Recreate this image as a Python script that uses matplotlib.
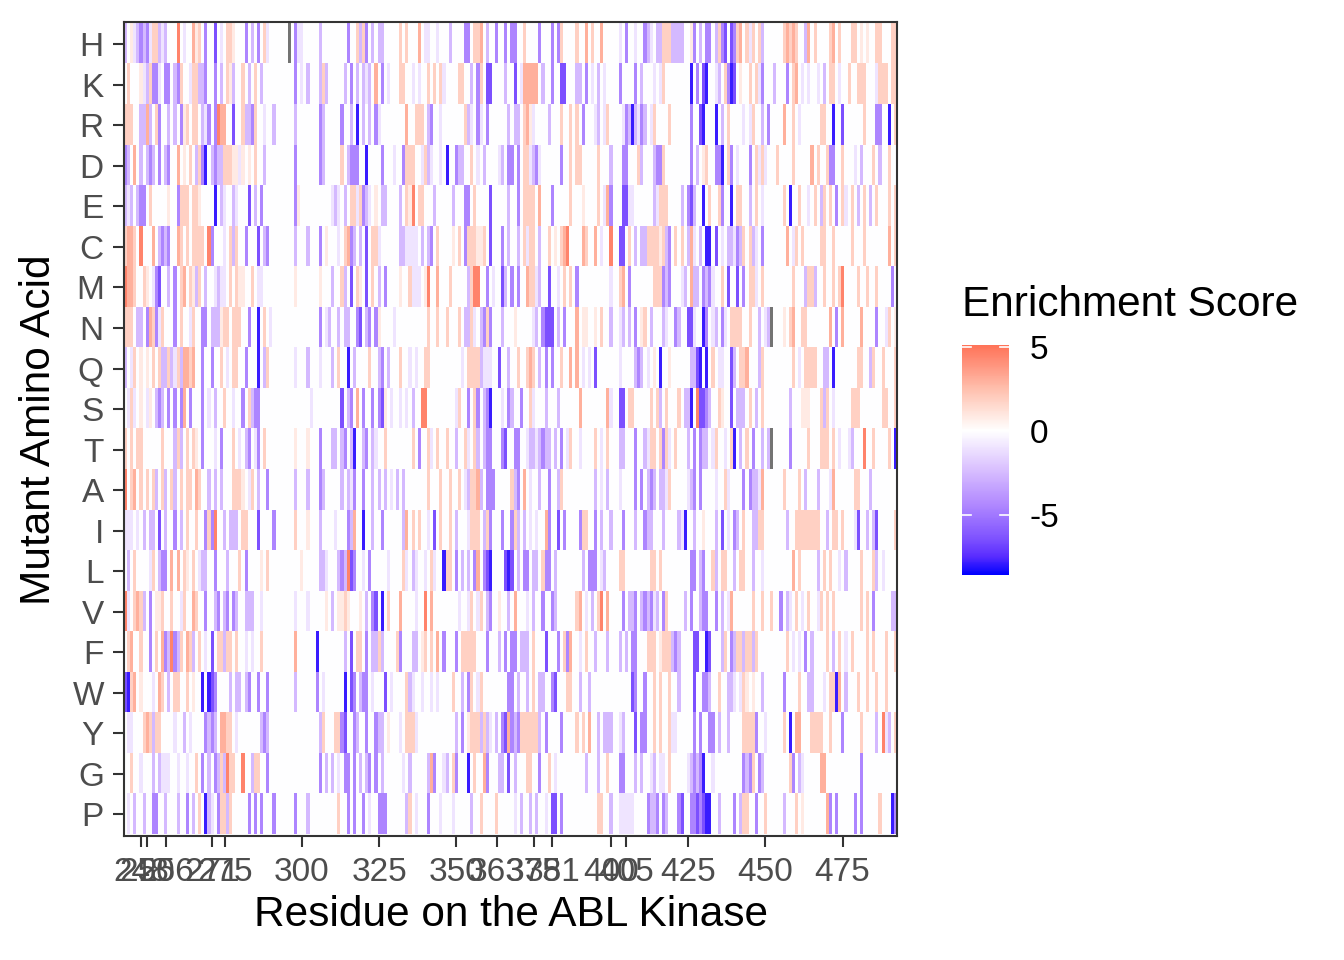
import numpy as np
import matplotlib
matplotlib.use("Agg")
import matplotlib.pyplot as plt
from matplotlib.colors import LinearSegmentedColormap, Normalize

plt.rcParams['font.family'] = ['Liberation Sans', 'DejaVu Sans']

# residues 243..492 on the x axis, one tile each
residues = np.arange(243, 493)
amino_acids = ["H", "K", "R", "D", "E", "C", "M", "N", "Q", "S",
               "T", "A", "I", "L", "V", "F", "W", "Y", "G", "P"]
tick_breaks = [248, 250, 256, 271, 275, 300, 325, 350, 363, 375, 381,
               400, 405, 425, 450, 475]

# enrichment score per tile, read off the tile colour
# "." ~0, "-" -1, "l" -2.5, "m" -4.5, "d" -6.5, "B" -7.9,
# "+" 0.8, "p" 1.8, "o" 3, "O" 4.5, "x" missing (grey)
level_scores = {".": 0.0, "-": -1.0, "l": -2.5, "m": -4.5, "d": -6.5, "B": -7.9,
                "+": 0.8, "p": 1.8, "o": 3.0, "O": 4.5, "x": np.nan}

# each row: residues 243-324, 325-409, 410-492 (groups of ten tiles)
segment_sizes = [82, 85, 83]

row_H = ("l.+-lmlm-p pl-l...O.- ..o+p.m..d .-.pp+...m .l.m.p-... ...x.m--.. ...l...... ..m..plpm.l.",
         "ll.....p.p ...o.--..- ...l....mm .ppo.l..m. .m.mm..p.. ..m...m.mp ....p..o.p ..o.....-. m..-.",
         ".ml-.llppp llll..+m.l .mm.lpmd.d mpo.p-p.pl ......popo p..lo.p... .po.p...pp .+.+..pp.. .pp")
row_K = (".p...+-lpm m-.mm.lmp. .-ppllm..m .l.p+l..p. l.p.l..... .....m.-.l ...lpl.... .l.m.l.l-l .o",
         ".m.-...pp. .-.-..p.p. p-....pp.. l.mp.dd... .l..d.-ooo oo.l..m..d d...ll.m.- .l.-....m. ...m.",
         "l...-.-p.. ......B.m. dB..-l.pmB d.+..p.p-m ...l...m.p o.-.-..-.l .pp.-..p.. ppp...-ppp .pp")
row_R = ("ppp..llol. pm..l.l.m+ p.pp.l-m.m Ooo..d..pl lmp..-..l. .....l.... ...ml..... m..l.B.l.l .m",
         "-........o ..ppp.lm.. -.......pl -.m-.m.... ..l.ll.po+ -....l...p ..p.p.m... -l.-p....- mlBl-",
         "ml.-p....p ......m..d B...B.l.p. ...-.-p..l .m....o..p .-......pp ..B..d.... ..p...mm.. B.p")
row_D = ("ml.o.l.lml .m.lm..o.+ .p.lpmB.lm llppp++-+. +.p..l.... .....m.... ...ml..... p.lmmm..B. ..",
         ".m...-..mp pp..-pl-.. -.B..mll.. p.-.l....- l.mm.m.pp- lm-......m ..p.pp.... .p...l...m m...p",
         "l...lmmp.. ......m.l. +p..mmB.pm .-...m.p-p -...p....p .....o.p.. pmm..p...- .l...p.l.. p..")
row_E = ("l-l.lmm.p. ....+..mpp p.pp+....B .l-..l-... d.l.m..... .....m+... .......-l- .l.pp-pml- .+",
         ".ll....l.p +O.pp...l. ....l...mm .p....d... ..l..m.ppp p.o...m... ..p...+... .p.-om...d d--..",
         "....l-ppp. ...l.mdl.. B.p..pm..B .pp..l.p.- ......p.B. .p..-.p.lp .p.m.p-.p. l.p.l.p... p.p")
row_C = ("poop.O...o .lmlm..op. p.pppp.Om. ..-.plp..m ...d.lm... .....l...l ...m.+...- .poml.l.d. pp",
         "-......ll- ---.l.lm.p ....+.p.mp pp++p.d... m.l..l.p-p p.l..p.+.p oO....op.. o.-..O..dd .p.l.",
         "llpppp+plm .p.p.lo-.l .BB.d.-.ll -mlp.pl-.m .......o.- p.p.....pp ..p.....p. ..p....... o.p")
row_M = ("Ooop..p+.- md..l.m.po .p+lp.l..- l--.p.p++. .p.--..... .....+.... ...+...l.. pl.d.p+.d. p.",
         "l.m....+.. p---.+O..o ...p.....l pOO..m.-.. dl.m.m..op p-l..d..-. p.p.m..... .....-..po .m...",
         "....pppmlm ...-l.oll. mlm-..p.d. .d.m.pp-.p .........p ...lppl..p ..p.pO.... p..p..p... .m.")
row_N = ("ppp.ll.mop m-p...m.p. .-p..mm.ll l+pp.ppp.. m..B.p.-.. .......... ...m.-l..l .ll..md.lm .m",
         "+....-.... ......p..p ..p...p.ll p-.lmpm... l...+..... -l.mddd.l. m...o.++.. +.p..l..-l .l.m.",
         "+p.l...l-. .ml..dd-.. Bm.-l.m-.p ppp..p..l. -lx...+.po ..pp...... .o.m.o.... .o....m..- p.+")
row_Q = ("l.-p.+.+.p .pllpl-plo opo..m..m. .p.-.pp..m ...B.lp... .....-...l ...-...l.p ..B.l....p ..",
         "lm.l...p.. -.-..pp... .......-.p pppl---..d ..l..p..po p.l.m.m..p ..o.o.-.-. d.......-. ...lm",
         "l.-.+.B..+ ......lldB .B.p.--..d l.ppo...lp .........p .-.pppp..l l.B....... pp..lp..p. ..p")
row_S = (".-p-.+.-+. lml.m.m.mo .m...m.-.l ..p..-..m. plmm...... .......... -......... d.lm.o.m.. m.",
         "md+.-..-.- .l..OO.... .....-p..m .pm.lmB... -.ml..m..p -...l...l. .....o.... ....o-..dd .pp..",
         "...p.pl.p. ..p.llB.Od dml..p+..d .lll.p.l.p ........l. ..+++...pl p.-.....pp p.......pp ..p")
row_T = ("p.p.pp.... ..p...lpl. p.p+.m...- .m...p.-.l m.-m.p.... .....+...+ ...m...ll. lm.lB..lm. l-",
         "..p....... .p.m..p-.p ..p..l..p- .pl.lmm... md..mm..-l l-lmll.l.m .-p..-.... p.-.p...ll ...m.",
         ".l-pp.pmp- .p...l.m.m ll.-p..-.p B.l.p.m..l .lx.....m. ....p...pp p.p.-..-l. ..O..p.... p.B")
row_A = ("O.po.p.p.p l.pl.pl.p. pp.op..l.l .l...ppp+. -p.l..m... .....l...l ...ml..... l.l-m..m.. l.",
         "l.l.-.l.l. ......p... p..p..p.-l ppol.mmm.. ...plm.o.- ..l..m..lp .......... l.-.l...-. ...m.",
         "m.lml.ll-p .....-lm.m ....-..p-. ...m.mll-o ......p... .p.l...l.. .-o......p p...l..... ...")
row_I = ("---.-.l.ll .d.l..m.l. p..p..mpmO ..l.lll.pp ...d....m. .....p...+ ...l....-. ..mlo..B.. l.",
         ".m......lo .p.p..-.d. p..p.l...- ppp.lpm... m..mpl.l.- .-..om..d. m....mpp.. m.l..l...m ...l.",
         ".mll...l.. ..l-B..l.. +...l.d.-. ml.p..llpp .......l.. pppppppp.. l.pp.p...- d..l.ld... ..p")
row_L = (".l.p....-p .lmm.o.o.p +.p.-ll..m ...l...p.m ....+.p... .......+.. ...ll-...l mlOdm..-.m ..",
         "...-....p- .l-..-.p-. .Bpp.m.l.l .mo.mdB... .dBd.l.mm. ll.pmm.l.. ......l.mm m.-l....pp .....",
         "...pp.p... ......mm.l m..pl.pp.. l.pp..l..- .........o .p.....l.p .p..-.l... .p...pl.-. ...")
row_V = ("O-.popl.m. ++p..p..-p ..op..m..l m.lm.ml..l ll..-..... .....-...- .....+.l.+ +p+...+.l. md",
         ".B.p...o.. ..-..O.o.. ......-..- p.-p.lm..+ ..l.o...-. l..m..ml.. ....po.-.l .pO.o....m .llm.",
         "lmlm-l.mp. ....l.m..l mm..m.l.-o ......p..p ..p..m.l-. p.-.p..-p. p.p....... .p.p.m.... .ll")
row_F = (".po..p..m. p.omlOmlp. opl.p.-.d. pplpp.p..- .-..p..... .....o.... ..B....... .l.d.pp.m. ll",
         "pl....pm.. .ll.+p.p.o .m...m.ppp pp...m...l .m.mm.lll. p...d...m. pmo..-.p.. l...l...l. l.mm.",
         "..ppp.+ppp lml....dd. .Bd...lp.m lpplpplp.. .......p.- .-.m.l.... p.l.p.-.p. ...p.p...p ..p")
row_W = ("dBpo.+...- .op.l.pp.. p.+..B.Bdm ....l.ll.l m..m..m... .....l.... ..m.-..... .B.dm.lmm. -.",
         "..d.-....p l-..-..-.- ....p..l.m p.-p...... ..mm.l..l. p.ll..md.. .pp..l..l. .......... ..dm.",
         ".m..p.p..p ..l....d.. mml..p..ll -.-p+.+..l ......m... .p..ll...- .ppBo.l... p..p..p..p ...")
row_Y = (".--...popl pp....-..l .-....mlml .oopp.-... ....lml... .......... ...lp...pp md..ml..m. .m",
         "ll.+...-.p pp-....... .....l.m.+ ppplpl-.l. mdomlmpppp ppl.m....m ....p.p.o. .l.lll..-l ...d.",
         "mm..p.p..p --.....m.m ..mm.l..l. ...ppppm.. -.....p.B. oo...pppp. .p...m.... .p....l.O- l.p")
row_G = ("..p..-...l .l---..-.. -..p.m.l.m lplOpp..O. .lpp..m... .......... ...m.l.l.- .mm.m.l.lm .m",
         ".l......-. l.....lom. .-l.pm...B .p..om...l l.d.l...pp ..m..p.-.. .......l.. .l..p...mm ...l.",
         "l..-l.--.p .....-lmlm B..-...... ...mlmp.ml ........pm .l-.....oo .......... .m........ ...")
row_P = (".-.l..l..m m..l...l.. m.l.p.Bl-. mpplp..... m.m.m...m. .....m...l .........p ..m.m..m.- ..",
         "mmm......l p.-...m... -...-..... l..p....p. ....-.l..l .l..-.dd.m .......... .pp..l..-- ---..",
         "..mllm.ml. ..md..mmdm dBB..l.... m.lpp..m.. p.....l... p.+....... om.m.....m .m.....p.. .Bm")

score_rows = [row_H, row_K, row_R, row_D, row_E, row_C, row_M, row_N, row_Q, row_S,
              row_T, row_A, row_I, row_L, row_V, row_F, row_W, row_Y, row_G, row_P]


def segment_codes(seg, size):
    # groups of ten; the last group takes whatever is left of the segment
    groups = seg.split()
    out = ""
    for g in groups[:-1]:
        out += (g + "..........")[:10]
    last = size - len(out)
    out += (groups[-1] + "." * last)[:last]
    return out


grid = []
for row in score_rows:
    codes = "".join(segment_codes(s, n) for s, n in zip(row, segment_sizes))
    grid.append([level_scores[c] for c in codes])
scores = np.ma.masked_invalid(np.array(grid))

W, H = 1344, 960
fig = plt.figure(figsize=(W / 100, H / 100), dpi=100)
ax = fig.add_axes([124 / W, 1 - 835.7 / H, (897 - 124) / W, (835.7 - 21.7) / H])

vmin, vmax = -8.6, 5.1
stops = [(-8.6, (0, 0, 255)), (-7.5, (90, 45, 255)), (-6.45, (126, 82, 255)),
         (-4.3, (179, 139, 255)), (-2.15, (220, 196, 255)), (0.0, (255, 255, 255)),
         (1.275, (255, 223, 213)), (2.55, (255, 190, 172)), (3.8, (255, 152, 130)),
         (5.1, (255, 115, 88))]
cmap = LinearSegmentedColormap.from_list(
    "enrich", [((v - vmin) / (vmax - vmin), tuple(c / 255 for c in rgb)) for v, rgb in stops])
cmap.set_bad("#737373")

half = 0.5
im = ax.imshow(scores, cmap=cmap, norm=Normalize(vmin, vmax), aspect="auto",
               interpolation="nearest",
               extent=(residues[0] - half, residues[-1] + half, len(amino_acids) - half, -half))
ax.set_xlim(residues[0] - 0.6, residues[-1] + 0.6)
ax.set_ylim(len(amino_acids) - 0.47, -0.56)

ax.set_xticks(tick_breaks)
ax.set_xticklabels([str(b) for b in tick_breaks])
ax.set_yticks(range(len(amino_acids)))
ax.set_yticklabels(amino_acids)
ax.tick_params(axis="both", labelsize=24, labelcolor="#4D4D4D", color="#333333",
               length=8, width=1.5)
ax.tick_params(axis="x", pad=7)
ax.tick_params(axis="y", pad=6.5)
for s in ax.spines.values():
    s.set_color("#333333")
    s.set_linewidth(1.5)

fig.text(510.5 / W, 1 - 915 / H, "Residue on the ABL Kinase", fontsize=30.5,
         ha="center", va="center")
fig.text(39 / W, 1 - 430 / H, "Mutant Amino Acid", fontsize=30.5, rotation=90,
         ha="center", va="center")

# colour bar legend
cax = fig.add_axes([962 / W, 1 - 575 / H, 47 / W, 230 / H])
cb = fig.colorbar(im, cax=cax)
cb.outline.set_visible(False)
cb.set_ticks([-5, 0, 5])
cb.set_ticklabels(["-5", "0", "5"])
cax.tick_params(length=0, labelsize=24, pad=15, labelcolor="black")
for v in [-5, 0, 5]:
    cax.axhline(v, 0, 0.2, color="white", lw=1.2)
    cax.axhline(v, 0.8, 1, color="white", lw=1.2)
fig.text(962 / W, 1 - 305 / H, "Enrichment Score", fontsize=30.5, ha="left", va="center")

fig.savefig("out.png", dpi=100)
